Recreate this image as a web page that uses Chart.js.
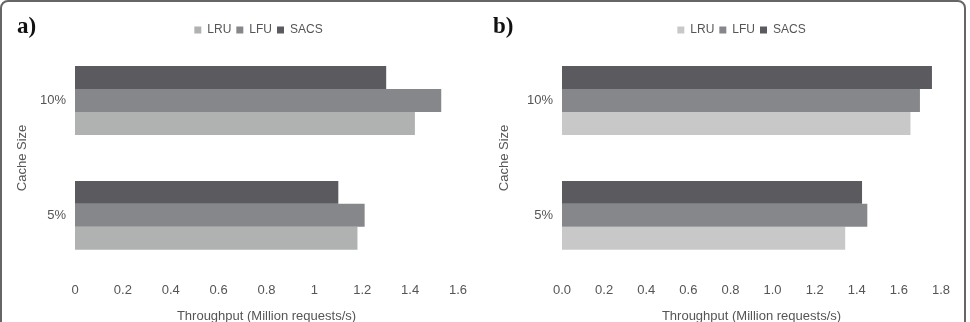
<!DOCTYPE html>
<html>
<head>
<meta charset="utf-8">
<script src="https://cdn.jsdelivr.net/npm/chart.js@4"></script>
<style>
  body { margin: 0; background: #fff; width: 970px; height: 322px; overflow: hidden; position: relative; font-family: "Liberation Sans", Arial, sans-serif; }
  .frame { position: absolute; left: 0; top: 0; width: 962px; height: 340px; border: 2px solid #666; border-radius: 8px; }
  .panel { position: absolute; top: 0; width: 485px; height: 322px; }
  .tag { position: absolute; top: 13px; font: bold 23px "Liberation Serif", "Times New Roman", serif; color: #111; }
</style>
</head>
<body>
<div class="frame"></div>
<div class="panel" style="left:0"><canvas id="chartA"></canvas></div>
<div class="panel" style="left:485px"><canvas id="chartB"></canvas></div>
<div class="tag" style="left:17px">a)</div>
<div class="tag" style="left:493px">b)</div>
<script>
const categories = ['10%', '5%'];
const seriesNames = ['SACS', 'LFU', 'LRU'];

// panel a)
const sacsA = [1.30, 1.10];
const lfuA = [1.53, 1.21];
const lruA = [1.42, 1.18];
const ticksA = ['0', '0.2', '0.4', '0.6', '0.8', '1', '1.2', '1.4', '1.6'];

// panel b)
const sacsB = [1.757, 1.425];
const lfuB = [1.70, 1.45];
const lruB = [1.655, 1.345];
const ticksB = ['0.0', '0.2', '0.4', '0.6', '0.8', '1.0', '1.2', '1.4', '1.6', '1.8'];

const textColor = '#555';
Chart.defaults.font.family = '"Liberation Sans", Arial, sans-serif';
Chart.defaults.color = textColor;

// nudge the legend a bit, it is not centred on the plot in the original
const legendNudge = {
  id: 'legendNudge',
  afterLayout(chart, args, opts) {
    const lg = chart.legend;
    lg.left += opts.dx;
    lg.right += opts.dx;
    lg.top += opts.dy;
    lg.bottom += opts.dy;
  }
};

function makeChart(id, values, colors, tickLabels, max, yWidth, titlePad, padRight, dx) {
  new Chart(document.getElementById(id), {
    type: 'bar',
    data: {
      labels: categories,
      datasets: seriesNames.map((name, i) => ({
        label: name,
        data: values[i],
        backgroundColor: colors[i],
        categoryPercentage: 0.6,
        barPercentage: 1.0
      }))
    },
    options: {
      indexAxis: 'y',
      responsive: false,
      animation: false,
      layout: { padding: { top: 16, right: padRight, left: 0, bottom: 0 } },
      plugins: {
        legend: {
          reverse: true,
          fullSize: false,
          labels: { boxWidth: 7, boxHeight: 7, padding: 5, font: { size: 12 }, color: textColor }
        },
        legendNudge: { dx: dx, dy: 3 },
        tooltip: { enabled: false }
      },
      scales: {
        x: {
          min: 0,
          max: max,
          grid: { display: false, drawTicks: false },
          border: { display: false },
          ticks: {
            stepSize: 0.2,
            padding: 10,
            font: { size: 13 },
            callback: (v, i) => tickLabels[i]
          },
          title: { display: true, text: 'Throughput (Million requests/s)', font: { size: 13 }, padding: { top: 0, bottom: -2 } }
        },
        y: {
          grid: { display: false, drawTicks: false },
          border: { display: false },
          ticks: { padding: 9, font: { size: 13 } },
          title: { display: true, text: 'Cache Size', font: { size: 13 }, padding: { top: titlePad, bottom: 4 } },
          afterFit: (scale) => { scale.width = yWidth; }
        }
      }
    },
    plugins: [legendNudge]
  });
}

const cA = document.getElementById('chartA');
const cB = document.getElementById('chartB');
[cA, cB].forEach(c => { c.width = 485; c.height = 322; });

makeChart('chartA', [sacsA, lfuA, lruA], ['#5a5a5f', '#86878a', '#b0b1b1'], ticksA, 1.6, 75, 15, 27, -8);
makeChart('chartB', [sacsB, lfuB, lruB], ['#5a5a5f', '#86878a', '#c8c8c9'], ticksB, 1.8, 77, 12, 29, -10);
</script>
</body>
</html>
